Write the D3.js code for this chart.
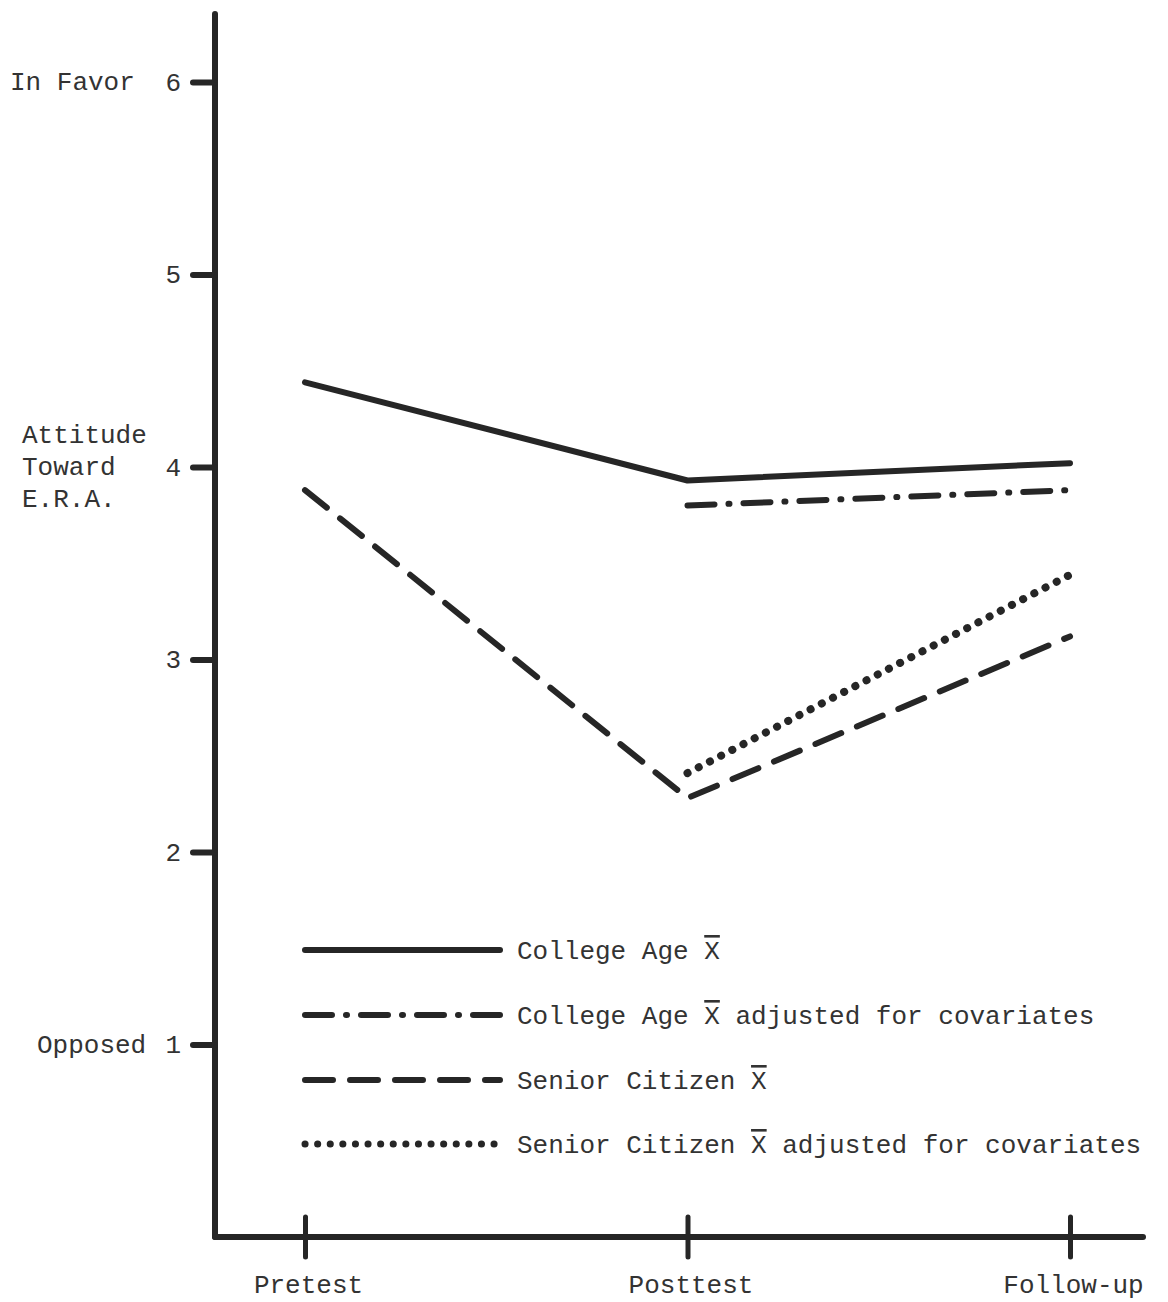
<!DOCTYPE html>
<html><head><meta charset="utf-8">
<script src="https://cdn.jsdelivr.net/npm/d3@7"></script>
<style>
body{margin:0;background:#fff;}
text{font-family:"Liberation Mono","DejaVu Sans Mono",monospace;fill:#333;}
</style></head>
<body>
<svg id="chart" width="1168" height="1302"></svg>
<script>
const phases = ["Pretest", "Posttest", "Follow-up"];
const yTicks = [1, 2, 3, 4, 5, 6];
const collegeAge = [4.44, 3.93, 4.02];
const collegeAdj = [null, 3.80, 3.88];
const senior = [3.88, 2.28, 3.12];
const seniorAdj = [null, 2.41, 3.44];
const seriesNames = ["College Age", "College Age", "Senior Citizen", "Senior Citizen"];
const seriesSuffix = ["", " adjusted for covariates", "", " adjusted for covariates"];

const svg = d3.select("#chart");
const ink = "#262626";
const fs = "26px";
const x = d3.scalePoint().domain(phases).range([305, 1070]);
const y = d3.scaleLinear().domain([0, 6]).range([1237, 82]);

// axes lines
svg.append("line").attr("x1",215).attr("x2",215).attr("y1",14).attr("y2",1237)
  .attr("stroke",ink).attr("stroke-width",6).attr("stroke-linecap","round");
svg.append("line").attr("x1",215).attr("x2",1143).attr("y1",1237).attr("y2",1237)
  .attr("stroke",ink).attr("stroke-width",6).attr("stroke-linecap","round");

// y axis ticks
const ya = svg.append("g").attr("transform","translate(215,0)")
  .call(d3.axisLeft(y).tickValues(yTicks).tickSize(22).tickPadding(12).tickFormat(d3.format("d")));
ya.select(".domain").remove();
ya.selectAll(".tick line").attr("stroke",ink).attr("stroke-width",6).attr("stroke-linecap","round");
ya.selectAll(".tick text").style("font-size",fs).attr("fill","#333")
  .style("font-family","Liberation Mono, monospace");

// x axis ticks
const xa = svg.append("g").attr("transform","translate(0,1237)")
  .call(d3.axisBottom(x).tickSize(20).tickPadding(18));
xa.select(".domain").remove();
xa.selectAll(".tick line").attr("y1",-20).attr("stroke",ink).attr("stroke-width",5).attr("stroke-linecap","round");
xa.selectAll(".tick text").style("font-size",fs).attr("fill","#333")
  .style("font-family","Liberation Mono, monospace").attr("dx", 3);

// y side labels
svg.append("text").attr("x",10).attr("y",90).style("font-size",fs).text("In Favor");
svg.append("text").attr("x",37).attr("y",1053).style("font-size",fs).text("Opposed");
["Attitude","Toward","E.R.A."].forEach((t,i)=>{
  svg.append("text").attr("x",22).attr("y",443+i*32).style("font-size",fs).text(t);
});

const styles = [
  {dash:null},
  {dash:"27,14,1,14"},
  {dash:"28,17"},
  {dash:"0.1,12.5"}
];
const allSeries = [collegeAge, collegeAdj, senior, seniorAdj];
const line = d3.line().defined(d=>d.v!=null).x(d=>x(d.p)).y(d=>y(d.v));

allSeries.forEach((s,i)=>{
  const pts = s.map((v,j)=>({p:phases[j], v}));
  svg.append("path").attr("d", line(pts)).attr("fill","none")
    .attr("stroke",ink).attr("stroke-width", i===3?8:6)
    .attr("stroke-linecap","round").attr("stroke-linejoin","round")
    .attr("stroke-dasharray",styles[i].dash);
});

// legend
const legY = [950, 1015, 1080, 1144];
allSeries.forEach((s,i)=>{
  svg.append("line").attr("x1",305).attr("x2",500).attr("y1",legY[i]).attr("y2",legY[i])
    .attr("stroke",ink).attr("stroke-width", i===3?7:6)
    .attr("stroke-linecap","round").attr("stroke-dasharray",styles[i].dash);
  const t = svg.append("text").attr("x",517).attr("y",legY[i]+9).style("font-size",fs);
  t.append("tspan").text(seriesNames[i] + " ");
  t.append("tspan").style("text-decoration","overline").text("X");
  t.append("tspan").text(seriesSuffix[i]);
});
</script>
</body></html>
